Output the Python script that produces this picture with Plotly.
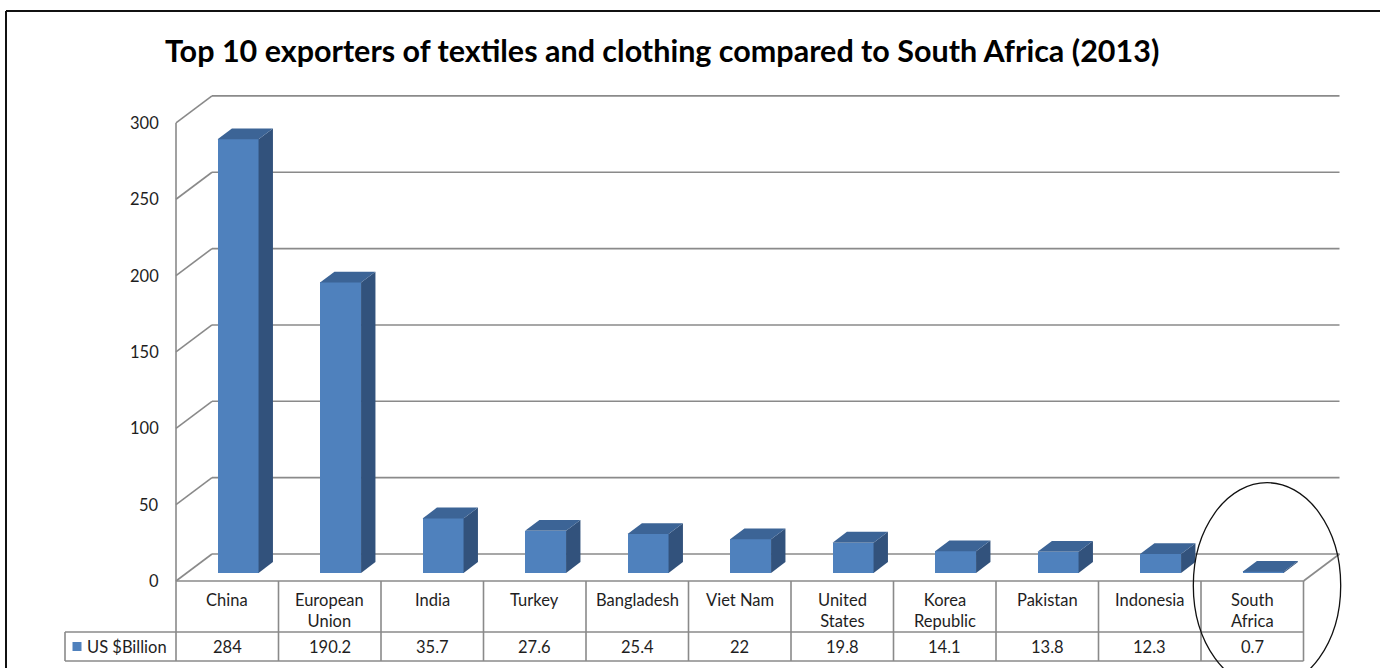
import plotly.graph_objects as go

# ---------------- data ----------------
categories = ["China", "European Union", "India", "Turkey", "Bangladesh", "Viet Nam",
              "United States", "Korea Republic", "Pakistan", "Indonesia", "South Africa"]
header_labels = ["China", "European<br>Union", "India", "Turkey", "Bangladesh", "Viet Nam",
                 "United<br>States", "Korea<br>Republic", "Pakistan", "Indonesia", "South<br>Africa"]
values = [284, 190.2, 35.7, 27.6, 25.4, 22, 19.8, 14.1, 13.8, 12.3, 0.7]
value_labels = ["284", "190.2", "35.7", "27.6", "25.4", "22", "19.8", "14.1", "13.8", "12.3", "0.7"]
series_name = "US $Billion"
y_ticks = [0, 50, 100, 150, 200, 250, 300]
title = "Top 10 exporters of textiles and clothing compared to South Africa (2013)"

# ---------------- layout geometry ----------------
W, H = 1380, 668
PXC = 102.5      # pixels per category
K = 1.527        # pixels per value unit
XL = 176         # pixel x of front-left axis
Y0 = 581         # pixel y of front floor
DX = 36 / PXC    # depth vector (data units)
DY = 27 / K
n = len(values)

def px2x(p):
    return -0.5 + (p - XL) / PXC

def py2y(p):
    return (Y0 - p) / K

FRONT = "#4F81BD"
TOP = "#3C6496"
SIDE = "#32527C"
GRID = "#8A8A8A"
TXT = "#1E1E1E"
FONT = "Lato"

fig = go.Figure()

# side and top faces of the 3D columns
f0, f1 = 0.3, 0.7
bw = 0.4
for i, v in enumerate(values):
    xa = i - bw / 2 + f0 * DX
    xb = i + bw / 2 + f0 * DX
    yb = f0 * DY
    yt = yb + v
    ddx, ddy = (f1 - f0) * DX, (f1 - f0) * DY
    fig.add_trace(go.Scatter(
        x=[xb, xb, xb + ddx, xb + ddx, xb], y=[yb, yt, yt + ddy, yb + ddy, yb],
        fill="toself", fillcolor=SIDE, mode="lines", line=dict(width=0, color=SIDE),
        hoverinfo="skip", showlegend=False))
    fig.add_trace(go.Scatter(
        x=[xa, xb, xb + ddx, xa + ddx, xa], y=[yt, yt, yt + ddy, yt + ddy, yt],
        fill="toself", fillcolor=TOP, mode="lines", line=dict(width=0, color=TOP),
        hoverinfo="skip", showlegend=False))

# front faces
fig.add_trace(go.Bar(
    x=[i + f0 * DX for i in range(n)], y=values, base=f0 * DY, width=bw,
    marker=dict(color=FRONT, line=dict(width=0)), name=series_name,
    hovertext=categories, showlegend=False))

shapes = []
def line(x0, y0, x1, y1, color=GRID, width=1.6, layer="below"):
    shapes.append(dict(type="line", xref="x", yref="y", x0=x0, y0=y0, x1=x1, y1=y1,
                       line=dict(color=color, width=width), layer=layer))

# back wall gridlines + side wall diagonals
for v in y_ticks:
    line(-0.5, v, -0.5 + DX, v + DY)
    line(-0.5 + DX, v + DY, n - 0.5 + DX, v + DY)
# front axis line (continues through table)
line(-0.5, y_ticks[-1], -0.5, py2y(661))
# floor right edge
line(n - 0.5, 0, n - 0.5 + DX, DY)

# data table grid
y_row = py2y(632)
y_bot = py2y(661)
line(-0.5, 0, n - 0.5, 0)
line(px2x(65), y_row, n - 0.5, y_row)
line(px2x(65), y_bot, n - 0.5, y_bot)
line(px2x(65), y_row, px2x(65), y_bot)
for j in range(1, n + 1):
    line(j - 0.5, 0, j - 0.5, y_bot)

# ellipse highlighting South Africa
sa = n - 1
shapes.append(dict(type="circle", xref="x", yref="y",
                   x0=sa + 0.144 - 0.719, x1=sa + 0.144 + 0.719,
                   y0=-2.9 - 67.3, y1=-2.9 + 67.3,
                   line=dict(color="#111111", width=1.3), layer="above"))

# outer border
shapes.append(dict(type="line", xref="paper", yref="paper", x0=6 / W, x1=1, y0=1 - 11 / H, y1=1 - 11 / H,
                   line=dict(color="#111111", width=2)))
shapes.append(dict(type="line", xref="paper", yref="paper", x0=6 / W, x1=6 / W, y0=0, y1=1 - 11 / H,
                   line=dict(color="#111111", width=2)))

annotations = []
# y tick labels
for v in y_ticks:
    annotations.append(dict(x=-0.5, y=v, xref="x", yref="y", text=str(v), showarrow=False,
                            xanchor="right", yanchor="middle", xshift=-15,
                            font=dict(family=FONT, size=16.5, color=TXT)))
# header row
for i, lab in enumerate(header_labels):
    annotations.append(dict(x=i, y=py2y(588), xref="x", yref="y", text=lab, showarrow=False,
                            xanchor="center", yanchor="top", align="center",
                            font=dict(family=FONT, size=16.5, color=TXT)))
# value row
for i, lab in enumerate(value_labels):
    annotations.append(dict(x=i, y=py2y(646.5), xref="x", yref="y", text=lab, showarrow=False,
                            xanchor="center", yanchor="middle",
                            font=dict(family=FONT, size=16.5, color=TXT)))
# legend key text
annotations.append(dict(x=px2x(85), y=py2y(646.5), xref="x", yref="y", text=series_name,
                        showarrow=False, xanchor="left", yanchor="middle",
                        font=dict(family=FONT, size=16.5, color=TXT)))
# title
annotations.append(dict(x=662 / W, y=1 - 50 / H, xref="paper", yref="paper", text="<b>" + title + "</b>",
                        showarrow=False, xanchor="center", yanchor="middle",
                        font=dict(family=FONT, size=30.5, color="#000000")))

# legend key square
fig.add_trace(go.Scatter(x=[px2x(77)], y=[py2y(646.5)], mode="markers",
                         marker=dict(symbol="square", size=9, color=FRONT),
                         hoverinfo="skip", showlegend=False))

fig.update_layout(
    width=W, height=H, margin=dict(l=0, r=0, t=0, b=0),
    paper_bgcolor="white", plot_bgcolor="white",
    xaxis=dict(range=[px2x(0), px2x(W)], visible=False, fixedrange=True),
    yaxis=dict(range=[py2y(H), py2y(0)], visible=False, fixedrange=True),
    shapes=shapes, annotations=annotations, showlegend=False, bargap=0,
)

fig.write_html("out.html", config={"displayModeBar": False},
               post_script="document.body.style.margin='0';document.body.style.overflow='hidden';")
